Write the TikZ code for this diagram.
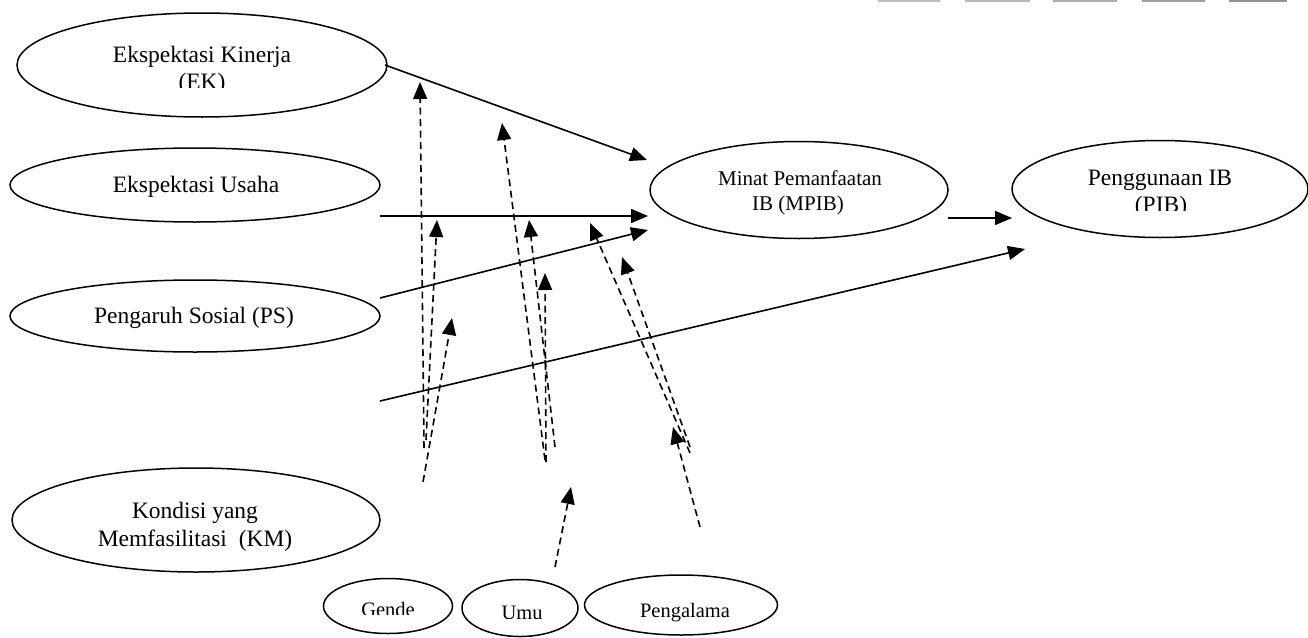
\documentclass[tikz,border=0pt]{standalone}
\usepackage{fontspec}
\setmainfont{Liberation Serif}
\usetikzlibrary{shapes.geometric,arrows.meta}
\begin{document}
\begin{tikzpicture}[x=1pt,y=-1pt,
  ell/.style={draw, ellipse, line width=1.5pt, inner sep=0pt},
  txt/.style={anchor=base, inner sep=0pt, font=\fontsize{23.5}{27}\selectfont},
  txtm/.style={anchor=base, inner sep=0pt, font=\fontsize{21}{25}\selectfont},
  txts/.style={anchor=base, inner sep=0pt, font=\fontsize{20.5}{24}\selectfont},
  solidarrow/.style={line width=1.6pt, -{Triangle[length=17pt,width=14pt]}},
  dasharrow/.style={line width=1.6pt, dash pattern=on 7pt off 4.5pt, -{Triangle[length=17pt,width=14pt]}},
  bar/.style={line width=1.5pt}
]
\useasboundingbox (0,0) rectangle (1308,637);

% faint bars at top right
\draw[bar, gray!50] (878,0.75) -- (940,0.75);
\draw[bar, gray!55] (965,0.75) -- (1030,0.75);
\draw[bar, gray!65] (1053,0.75) -- (1117,0.75);
\draw[bar, gray!75] (1142,0.75) -- (1205,0.75);
\draw[bar, gray!85] (1229,0.75) -- (1287,0.75);

% ellipses
\node[ell, minimum width=370pt, minimum height=104pt] (EK) at (202,65) {};
\node[ell, minimum width=370pt, minimum height=74pt] (EU) at (195,185) {};
\node[ell, minimum width=370pt, minimum height=72pt] (PS) at (195,316) {};
\node[ell, minimum width=368pt, minimum height=104pt] (KM) at (196,520) {};
\node[ell, minimum width=298pt, minimum height=97pt] (MPIB) at (799,190) {};
\node[ell, minimum width=296pt, minimum height=97pt] (PIB) at (1160,189) {};
\node[ell, minimum width=129pt, minimum height=55pt] (GEN) at (388,606) {};
\node[ell, minimum width=116pt, minimum height=57pt] (UMR) at (520,608) {};
\node[ell, minimum width=193pt, minimum height=60pt] (PGL) at (681,605) {};

% texts
\node[txt] (ek1) at (202,62) {Ekspektasi Kinerja};
\begin{scope}
  \clip (0,0) rectangle (1308,87);
  \node[txt] (ek2) at (202,89) {(EK)};
\end{scope}
\node[txt] (eu1) at (196,192) {Ekspektasi Usaha};
\node[txt] (ps1) at (194,323) {Pengaruh Sosial (PS)};
\node[txt] (km1) at (195,518) {Kondisi yang};
\node[txt] (km2) at (195,546) {Memfasilitasi\ \ (KM)};
\node[txtm] (mp1) at (800,185) {Minat Pemanfaatan};
\node[txtm] (mp2) at (798,210) {IB (MPIB)};
\node[txt] (pib1) at (1160,185) {Penggunaan IB};
\begin{scope}
  \clip (0,0) rectangle (1308,210);
  \node[txt] (pib2) at (1161,212) {(PIB)};
\end{scope}
\begin{scope}
  \clip (0,0) rectangle (1308,614);
  \node[txts] (gen1) at (388,616) {Gende};
\end{scope}
\begin{scope}
  \clip (0,0) rectangle (1308,618);
  \node[txts] (umr1) at (522,619) {Umu};
\end{scope}
\node[txts] (pgl1) at (685,617) {Pengalama};

% coordinates for connector ends
\coordinate (s1a) at (385,65);   \coordinate (s1b) at (647,160);
\coordinate (s2a) at (380,216);  \coordinate (s2b) at (648,216);
\coordinate (s3a) at (380,298);  \coordinate (s3b) at (648,230);
\coordinate (s4a) at (380,401);  \coordinate (s4b) at (1025,249);
\coordinate (s5a) at (948,218);  \coordinate (s5b) at (1012,218);

\coordinate (d1a) at (424,448);  \coordinate (d1b) at (420,82);
\coordinate (d2a) at (426,440);  \coordinate (d2b) at (437,220);
\coordinate (d3a) at (423,482);  \coordinate (d3b) at (452,318);
\coordinate (d4a) at (545,460);  \coordinate (d4b) at (502,123);
\coordinate (d5a) at (555,447);  \coordinate (d5b) at (529,220);
\coordinate (d6a) at (546,462);  \coordinate (d6b) at (545,273);
\coordinate (d7a) at (555,567);  \coordinate (d7b) at (571,487);
\coordinate (d8a) at (690,453);  \coordinate (d8b) at (590,223);
\coordinate (d9a) at (690,447);  \coordinate (d9b) at (622,257);
\coordinate (d10a) at (700,527); \coordinate (d10b) at (673,427);

% solid connectors
\draw[solidarrow] (s1a) -- (s1b);
\draw[solidarrow] (s2a) -- (s2b);
\draw[solidarrow] (s3a) -- (s3b);
\draw[solidarrow] (s4a) -- (s4b);
\draw[solidarrow] (s5a) -- (s5b);

% dashed connectors
\draw[dasharrow] (d1a) -- (d1b);
\draw[dasharrow] (d2a) -- (d2b);
\draw[dasharrow] (d3a) -- (d3b);
\draw[dasharrow] (d4a) -- (d4b);
\draw[dasharrow] (d5a) -- (d5b);
\draw[dasharrow] (d6a) -- (d6b);
\draw[dasharrow] (d7a) -- (d7b);
\draw[dasharrow] (d8a) -- (d8b);
\draw[dasharrow] (d9a) -- (d9b);
\draw[dasharrow] (d10a) -- (d10b);
\end{tikzpicture}
\end{document}
